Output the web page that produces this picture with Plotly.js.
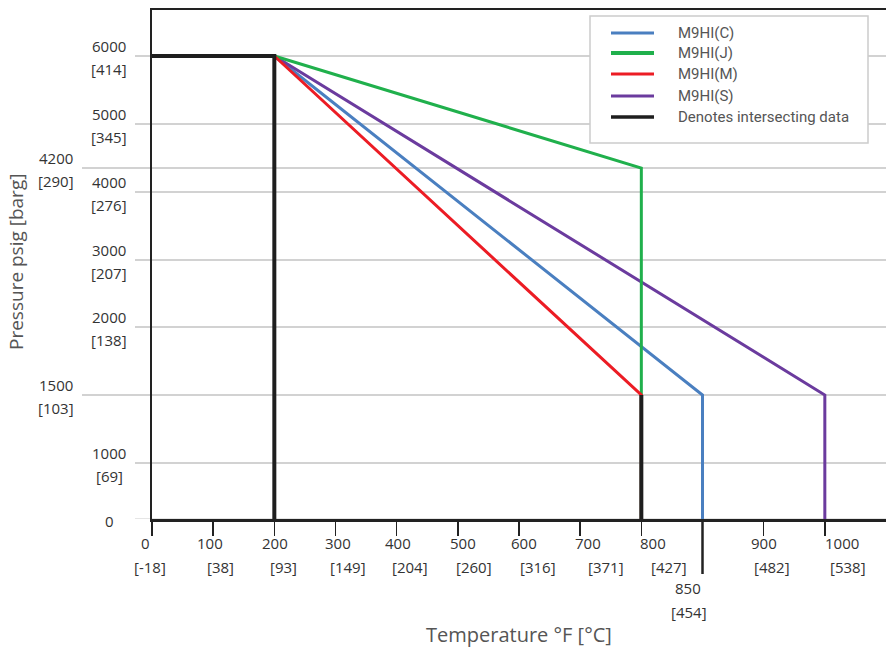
<!DOCTYPE html>
<html>
<head>
<meta charset="utf-8">
<script src="https://cdn.plot.ly/plotly-3.0.1.min.js"></script>
<style>html,body{margin:0;padding:0;background:#fff;}#chart{width:886px;height:649px;}</style>
</head>
<body>
<div id="chart"></div>
<script>
// ---------- DATA ----------
const seriesNames = ['M9HI(C)', 'M9HI(J)', 'M9HI(M)', 'M9HI(S)'];
const tempC = [200, 850, 850];
const pressC = [6000, 1500, 0];
const tempJ = [200, 800, 800];
const pressJ = [6000, 4200, 0];
const tempM = [200, 800, 800];
const pressM = [6000, 1500, 0];
const tempS = [200, 1000, 1000];
const pressS = [6000, 1500, 0];
const intersectName = 'Denotes intersecting data';
const tempIntersect = [0, 200, 200, null, 800, 800];
const pressIntersect = [6000, 6000, 0, null, 1500, 0];

const tempTicks = [0, 100, 200, 300, 400, 500, 600, 700, 800, 850, 900, 1000];
const tempTickC = ['[-18]', '[38]', '[93]', '[149]', '[204]', '[260]', '[316]', '[371]', '[427]', '[454]', '[482]', '[538]'];
const pressTicks = [0, 1000, 1500, 2000, 3000, 4000, 4200, 5000, 6000];
const pressTickBar = ['', '[69]', '[103]', '[138]', '[207]', '[276]', '[290]', '[345]', '[414]'];

// ---------- SCHEMATIC SCALES (axis is not linear in the original) ----------
const tempSlot = tempTicks.map((_, i) => i);               // evenly spaced slots
const pressSlot = [0, 56, 124, 192, 259, 327, 351, 395, 463]; // slot positions of pressure ticks
function piecewise(v, from, to) {
  if (v === null) return null;
  for (let i = 0; i < from.length - 1; i++) {
    if (v >= from[i] && v <= from[i + 1]) {
      return to[i] + (v - from[i]) / (from[i + 1] - from[i]) * (to[i + 1] - to[i]);
    }
  }
  return v < from[0] ? to[0] : to[to.length - 1];
}
const sx = v => piecewise(v, tempTicks, tempSlot);
const sy = v => piecewise(v, pressTicks, pressSlot);

// ---------- STYLE ----------
const colors = { C: '#4a7fc0', J: '#20b04c', M: '#ec1c24', S: '#6b3b9e', K: '#1e1e1e' };
const tickFont = { family: 'Open Sans, sans-serif', size: 15, color: '#333' };
const legFont = { family: 'Roboto, sans-serif', size: 15, color: '#555' };

function line(x, y, name, color, width) {
  return { type: 'scatter', mode: 'lines', x: x.map(sx), y: y.map(sy), name: name,
           line: { color: color, width: width }, showlegend: false, hoverinfo: 'skip' };
}
const traces = [
  line(tempC, pressC, seriesNames[0], colors.C, 3),
  line(tempS, pressS, seriesNames[3], colors.S, 3),
  line(tempJ, pressJ, seriesNames[1], colors.J, 3),
  line(tempM, pressM, seriesNames[2], colors.M, 3),
  line(tempIntersect, pressIntersect, intersectName, colors.K, 4)
];

const W = 886, H = 649, mL = 152, mR = 0, mT = 10, mB = 130;
const plotW = W - mL - mR, plotH = H - mT - mB;
const px = x => (x - mL) / plotW;      // pixel -> paper x
const py = y => (H - mB - y) / plotH;  // pixel -> paper y

const shapes = [];
const annotations = [];

// horizontal grid lines (extend left of plot)
const farLeft = [1500, 4200];
pressTicks.forEach((p, i) => {
  const x0 = farLeft.includes(p) ? px(82) : px(135);
  shapes.push({ type: 'line', xref: 'paper', yref: 'y', x0: x0, x1: 1, y0: sy(p), y1: sy(p),
                line: { color: p === 0 ? '#cccccc' : '#a6a6a6', width: 1.2 }, layer: 'below' });
  const xc = farLeft.includes(p) ? -96 : -43;
  annotations.push({ xref: 'paper', yref: 'y', x: 0, y: sy(p), xshift: xc, yshift: p === 0 ? -2 : 10,
                     text: String(p), showarrow: false, font: tickFont, xanchor: 'center', yanchor: 'middle' });
  if (pressTickBar[i]) {
    annotations.push({ xref: 'paper', yref: 'y', x: 0, y: sy(p), xshift: xc, yshift: -13,
                       text: pressTickBar[i], showarrow: false, font: tickFont, xanchor: 'center', yanchor: 'middle' });
  }
});

// x tick labels (hand-placed offsets as in the original)
const fShift = [-7, -3, 1, 2, 1, 5, 5, 8, 12, -15, 0, 17];
const cShift = [-2, 7, 9, 12, 13, 16, 19, 26, 28, -14, 8, 23];
tempTicks.forEach((t, i) => {
  const low = t === 850;
  annotations.push({ xref: 'x', yref: 'paper', x: sx(t), y: 0, xshift: fShift[i], yshift: low ? -69 : -24,
                     text: String(t), showarrow: false, font: tickFont, xanchor: 'center', yanchor: 'middle' });
  annotations.push({ xref: 'x', yref: 'paper', x: sx(t), y: 0, xshift: cShift[i], yshift: low ? -93 : -48,
                     text: tempTickC[i], showarrow: false, font: tickFont, xanchor: 'center', yanchor: 'middle' });
});
// long tick for 850
shapes.push({ type: 'line', xref: 'x', yref: 'paper', x0: sx(850), x1: sx(850), y0: 0, y1: py(574),
              line: { color: '#222', width: 2.5 } });

// custom legend
shapes.push({ type: 'rect', xref: 'paper', yref: 'paper', x0: px(590), x1: px(868), y0: py(16), y1: py(143),
              line: { color: '#cccccc', width: 1.5 }, fillcolor: '#ffffff', layer: 'above' });
const legItems = [
  [seriesNames[0], colors.C, 33, 3],
  [seriesNames[1], colors.J, 53, 4],
  [seriesNames[2], colors.M, 74, 3],
  [seriesNames[3], colors.S, 96, 3],
  [intersectName, colors.K, 117, 3.5]
];
legItems.forEach(([name, c, y, w]) => {
  shapes.push({ type: 'line', xref: 'paper', yref: 'paper', x0: px(611), x1: px(654), y0: py(y), y1: py(y),
                line: { color: c, width: w }, layer: 'above' });
  annotations.push({ xref: 'paper', yref: 'paper', x: px(676), y: py(y), text: name, showarrow: false,
                     xanchor: 'left', yanchor: 'middle', font: legFont });
});

// axis titles
annotations.push({ xref: 'paper', yref: 'paper', x: px(519), y: py(634), text: 'Temperature °F [°C]',
                   showarrow: false, xanchor: 'center', yanchor: 'middle',
                   font: { family: 'Open Sans, sans-serif', size: 20, color: '#555' } });
annotations.push({ xref: 'paper', yref: 'paper', x: px(16), y: py(262), text: 'Pressure psig [barg]',
                   showarrow: false, xanchor: 'center', yanchor: 'middle', textangle: -90,
                   font: { family: 'Open Sans, sans-serif', size: 19, color: '#555' } });

const layout = {
  width: W, height: H,
  margin: { l: mL, r: mR, t: mT, b: mB, pad: 0 },
  paper_bgcolor: '#fff', plot_bgcolor: '#fff',
  showlegend: false,
  xaxis: { range: [0, 12], showgrid: false, zeroline: false, showline: true, mirror: true,
           linecolor: '#222', linewidth: 2.5, ticks: 'outside', ticklen: 14, tickwidth: 1.5, tickcolor: '#222',
           tickvals: tempTicks.filter(t => t !== 850).map(sx), showticklabels: false, fixedrange: true },
  yaxis: { range: [0, plotH], showgrid: false, zeroline: false, showline: true, mirror: false,
           linecolor: '#222', linewidth: 2.5, ticks: '', showticklabels: false, fixedrange: true },
  shapes: shapes,
  annotations: annotations
};

Plotly.newPlot('chart', traces, layout, { displayModeBar: false, staticPlot: true });
</script>
</body>
</html>
